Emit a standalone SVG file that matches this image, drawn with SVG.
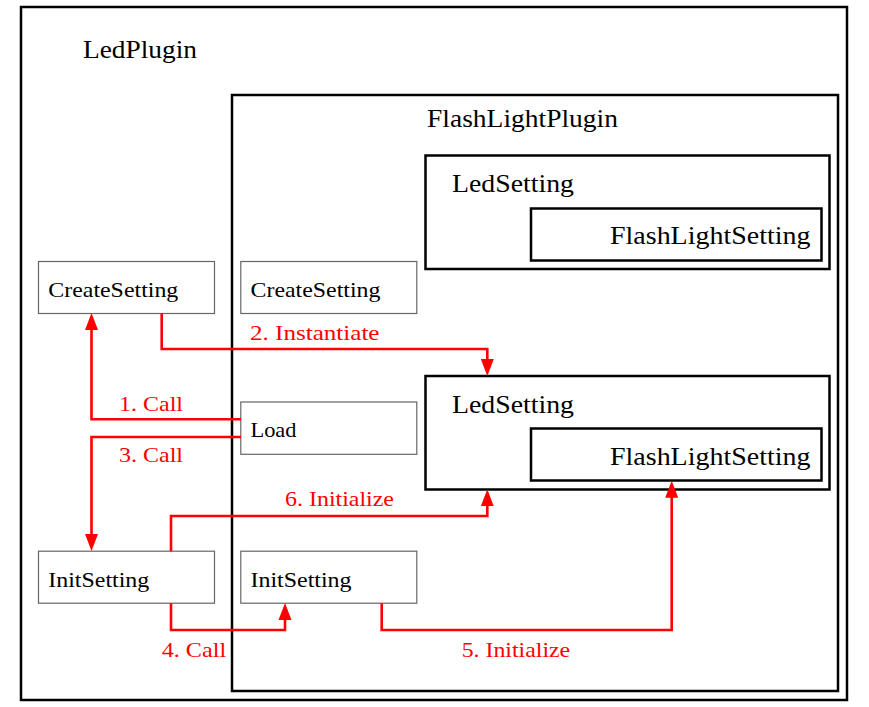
<svg xmlns="http://www.w3.org/2000/svg" width="869" height="707" viewBox="0 0 869 707">
<style>
.big{fill:none;stroke:#000;stroke-width:2.5}
.small{fill:#fff;stroke:#666;stroke-width:1.2}
text{font-family:'Liberation Serif','Times New Roman',serif}
.t{fill:#000}
.tb{font-size:25.5px}
.ts{font-size:21.5px}
.lbl{font-size:21.5px;fill:#ff0000}
.conn{fill:none;stroke:#ff0000;stroke-width:2.6}
</style>
<defs>
<marker id="arr" markerUnits="userSpaceOnUse" markerWidth="20" markerHeight="16" refX="13" refY="7" orient="auto" viewBox="0 0 20 16">
<path d="M0,0.5 L17,7 L0,13.5 z" fill="#ff0000"/>
</marker>
</defs>
<rect width="869" height="707" fill="#fff"/>
<g id="LedPlugin">
<rect class="big" x="21" y="7" width="826" height="693"/>
<text class="t tb" x="83" y="58.3" textLength="114" lengthAdjust="spacingAndGlyphs">LedPlugin</text>
</g>
<g id="FlashLightPlugin">
<rect class="big" x="232" y="95" width="606" height="596"/>
<text class="t tb" x="427" y="126.7" textLength="191" lengthAdjust="spacingAndGlyphs">FlashLightPlugin</text>
</g>
<g id="LedSetting1">
<rect class="big" x="425.5" y="155.5" width="404" height="113.5"/>
<text class="t tb" x="452" y="191.7" textLength="122" lengthAdjust="spacingAndGlyphs">LedSetting</text>
</g>
<g id="FlashLightSetting1">
<rect class="big" x="531" y="208.5" width="290.5" height="52"/>
<text class="t tb" x="610" y="244" textLength="200.5" lengthAdjust="spacingAndGlyphs">FlashLightSetting</text>
</g>
<g id="LedSetting2">
<rect class="big" x="425.5" y="376" width="404" height="113.5"/>
<text class="t tb" x="452" y="412.5" textLength="122" lengthAdjust="spacingAndGlyphs">LedSetting</text>
</g>
<g id="FlashLightSetting2">
<rect class="big" x="531" y="428.5" width="290.5" height="52"/>
<text class="t tb" x="610" y="464.7" textLength="200.5" lengthAdjust="spacingAndGlyphs">FlashLightSetting</text>
</g>
<g id="CreateSettingLeft">
<rect class="small" x="38.5" y="261.5" width="176" height="52"/>
<text class="t ts" x="48.3" y="296.7" textLength="130" lengthAdjust="spacingAndGlyphs">CreateSetting</text>
</g>
<g id="CreateSettingRight">
<rect class="small" x="240.8" y="261.5" width="176" height="52"/>
<text class="t ts" x="250.5" y="296.7" textLength="130" lengthAdjust="spacingAndGlyphs">CreateSetting</text>
</g>
<g id="Load">
<rect class="small" x="240.8" y="402" width="176" height="52.3"/>
<text class="t ts" x="250.5" y="436.8" textLength="46" lengthAdjust="spacingAndGlyphs">Load</text>
</g>
<g id="InitSettingLeft">
<rect class="small" x="38.5" y="551.2" width="176" height="52"/>
<text class="t ts" x="48.3" y="586.7" textLength="101" lengthAdjust="spacingAndGlyphs">InitSetting</text>
</g>
<g id="InitSettingRight">
<rect class="small" x="240.8" y="551.2" width="176" height="52"/>
<text class="t ts" x="250.5" y="586.7" textLength="101" lengthAdjust="spacingAndGlyphs">InitSetting</text>
</g>
<g id="connectors">
<path class="conn" d="M241,419.3 H91.5 V317" marker-end="url(#arr)"/>
<path class="conn" d="M161.7,313.5 V349 H487.3 V372" marker-end="url(#arr)"/>
<path class="conn" d="M241,437 H91.5 V547" marker-end="url(#arr)"/>
<path class="conn" d="M171,603.2 V630 H285 V607" marker-end="url(#arr)"/>
<path class="conn" d="M381.7,603.2 V630 H671.7 V484.7" marker-end="url(#arr)"/>
<path class="conn" d="M171,551.2 V516 H487.3 V493.3" marker-end="url(#arr)"/>
<text class="lbl" x="119" y="410.7" textLength="64" lengthAdjust="spacingAndGlyphs">1. Call</text>
<text class="lbl" x="250" y="340" textLength="129.5" lengthAdjust="spacingAndGlyphs">2. Instantiate</text>
<text class="lbl" x="119" y="461.7" textLength="64" lengthAdjust="spacingAndGlyphs">3. Call</text>
<text class="lbl" x="161.7" y="656.7" textLength="64.5" lengthAdjust="spacingAndGlyphs">4. Call</text>
<text class="lbl" x="461.7" y="656.7" textLength="108.5" lengthAdjust="spacingAndGlyphs">5. Initialize</text>
<text class="lbl" x="285" y="506" textLength="109" lengthAdjust="spacingAndGlyphs">6. Initialize</text>
</g>
</svg>
